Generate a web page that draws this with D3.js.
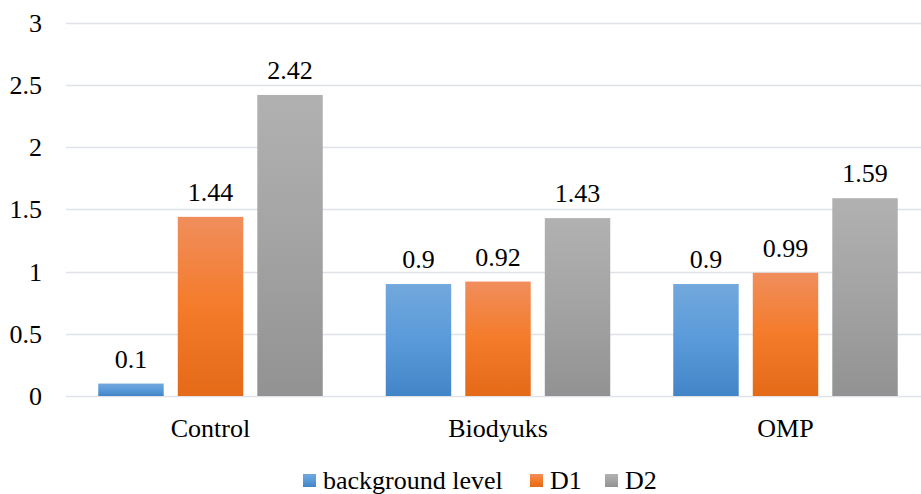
<!DOCTYPE html>
<html><head><meta charset="utf-8">
<script src="https://cdn.jsdelivr.net/npm/d3@7"></script>
</head><body style="margin:0;background:#fff">
<svg id="c" width="921" height="494" style="display:block"></svg>
<script>
const categories = ["Control", "Biodyuks", "OMP"];
const seriesNames = ["background level", "D1", "D2"];
const backgroundLevel = [0.1, 0.9, 0.9];
const d1 = [1.44, 0.92, 0.99];
const d2 = [2.42, 1.43, 1.59];
const yTicks = [0, 0.5, 1, 1.5, 2, 2.5, 3];
const seriesValues = [backgroundLevel, d1, d2];
const gradStops = [
  ["#72a8dc", "#5a9ada", "#4285c6"],
  ["#f08e5c", "#f47b2a", "#e46a18"],
  ["#b1b1b1", "#a3a3a3", "#929292"]
];

const FONT = '"Liberation Serif", "Times New Roman", serif';
const svg = d3.select("#c");
const x0 = d3.scaleBand().domain(categories).range([66.75, 929.25]).paddingInner(0).paddingOuter(0);
const x1 = d3.scaleBand().domain(seriesNames).range([31.5, 287.5 - 31.5]).paddingInner(0.177).paddingOuter(0);
const y = d3.scaleLinear().domain([0, 3]).range([396, 22.8]);

function txt(sel) {
  return sel.style("font-family", FONT, "important").style("font-size", "26px", "important").attr("fill", "#000");
}

const defs = svg.append("defs");
gradStops.forEach((s, i) => {
  const g = defs.append("linearGradient").attr("id", "g" + i).attr("x1", 0).attr("y1", 0).attr("x2", 0).attr("y2", 1);
  g.append("stop").attr("offset", "0%").attr("stop-color", s[0]);
  g.append("stop").attr("offset", "50%").attr("stop-color", s[1]);
  g.append("stop").attr("offset", "100%").attr("stop-color", s[2]);
});

// gridlines
svg.append("g").selectAll("line").data(yTicks).join("line")
  .attr("x1", 66).attr("x2", 921)
  .attr("y1", d => Math.round(y(d)) + 0.5).attr("y2", d => Math.round(y(d)) + 0.5)
  .attr("stroke", "#dfe2e7").attr("stroke-width", 1.5);

// y tick labels
txt(svg.append("g").selectAll("text").data(yTicks).join("text")
  .attr("x", 42).attr("y", d => y(d) + 9)
  .attr("text-anchor", "end"))
  .text(d => d3.format("")(d));

// bars
const groups = svg.append("g").selectAll("g").data(categories).join("g")
  .attr("transform", c => `translate(${x0(c)},0)`);
seriesNames.forEach((s, si) => {
  groups.append("rect")
    .attr("x", x1(s))
    .attr("width", x1.bandwidth())
    .attr("y", (c, ci) => y(seriesValues[si][ci]))
    .attr("height", (c, ci) => y(0) - y(seriesValues[si][ci]))
    .attr("fill", `url(#g${si})`);
  txt(groups.append("text")
    .attr("x", x1(s) + x1.bandwidth() / 2)
    .attr("y", (c, ci) => y(seriesValues[si][ci]) - 16)
    .attr("text-anchor", "middle"))
    .text((c, ci) => seriesValues[si][ci]);
});

// category labels
txt(svg.append("g").selectAll("text").data(categories).join("text")
  .attr("x", c => x0(c) + x0.bandwidth() / 2).attr("y", 437)
  .attr("text-anchor", "middle"))
  .text(c => c);

// legend
const legendX = [303, 530, 605];
const lg = svg.append("g").selectAll("g").data(seriesNames).join("g")
  .attr("transform", (d, i) => `translate(${legendX[i]},0)`);
lg.append("rect").attr("x", 0).attr("y", 474).attr("width", 13).attr("height", 13)
  .attr("fill", (d, i) => `url(#g${i})`);
txt(lg.append("text").attr("x", 20).attr("y", 489)).text(d => d);
</script>
</body></html>
